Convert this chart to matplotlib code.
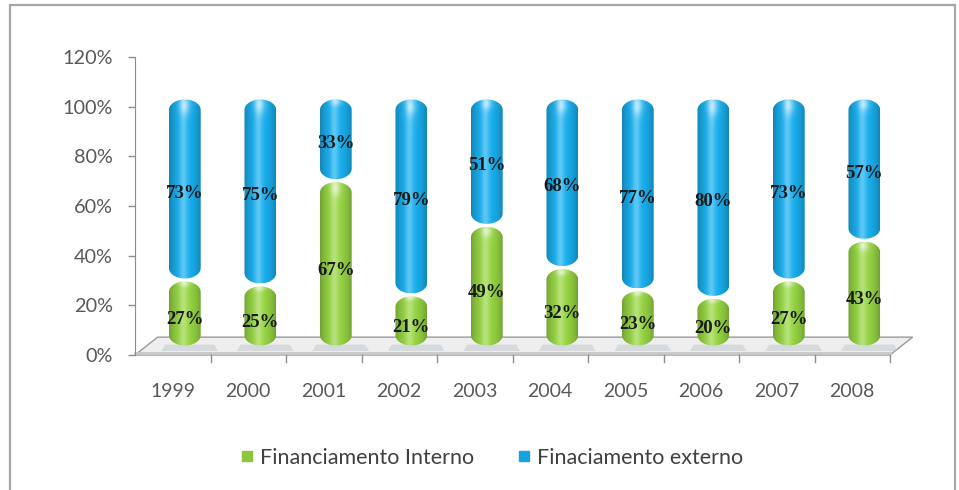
import numpy as np
import matplotlib.pyplot as plt
from matplotlib.path import Path
from matplotlib.patches import PathPatch, Polygon, Rectangle
from matplotlib.lines import Line2D
from matplotlib.colors import to_rgb

years = ["1999", "2000", "2001", "2002", "2003", "2004", "2005", "2006", "2007", "2008"]
interno = [27, 25, 67, 21, 49, 32, 23, 20, 27, 43]
externo = [73, 75, 33, 79, 51, 68, 77, 80, 73, 57]
yticks = [0, 20, 40, 60, 80, 100, 120]

GREEN = "#8CC63E"
BLUE = "#17A3DE"
GRAY_TXT = "#595959"

# pseudo-3D depth of the floor, in data units
DEPTH_X, DEPTH_Y = 0.30, 7.2
BAR_DX, BAR_DY = 0.16, 3.2
HALF_W = 0.21
CAP = 4.2


def capsule_path(xc, y0, y1, hw, cap):
    t = np.linspace(0, np.pi, 30)
    top = np.column_stack([xc + hw * np.cos(t), y1 - cap + cap * np.sin(t)])
    bot = np.column_stack([xc - hw * np.cos(t), y0 + cap - cap * np.sin(t)])
    pts = np.vstack([top, bot, top[:1]])
    codes = [Path.MOVETO] + [Path.LINETO] * (len(pts) - 2) + [Path.CLOSEPOLY]
    return Path(pts, codes)


def shaded_image(color, h=80, w=60):
    base = np.array(to_rgb(color))
    u = np.linspace(-1, 1, w)
    shade = 0.80 + 0.28 * np.cos(u * np.pi / 2) ** 0.7
    spec = 0.30 * np.exp(-((u + 0.1) / 0.25) ** 2)
    img = np.zeros((h, w, 3))
    v = np.linspace(1, 0, h)[:, None]  # 1 = top row
    top_glow = 0.45 * np.exp(-((v - 0.97) / 0.05) ** 2) * np.exp(-(u / 0.35) ** 2)[None, :]
    for k in range(3):
        c = base[k] * shade[None, :]
        c = c + (1 - c) * (spec[None, :] + top_glow)
        img[:, :, k] = c
    return np.clip(img, 0, 1)


def draw_segment(ax, xc, y0, y1, color):
    path = capsule_path(xc, y0, y1, HALF_W, min(CAP, (y1 - y0) / 2))
    patch = PathPatch(path, facecolor="none", edgecolor="none", transform=ax.transData)
    ax.add_patch(patch)
    im = ax.imshow(shaded_image(color), extent=[xc - HALF_W, xc + HALF_W, y0, y1],
                   aspect="auto", interpolation="bilinear", zorder=3)
    im.set_clip_path(patch)


fig = plt.figure(figsize=(9.59, 4.90), dpi=100)
fig.patches.append(Rectangle((10 / 959, -0.02), 945 / 959, (490 - 5) / 490 + 0.02,
                             transform=fig.transFigure, fill=False,
                             edgecolor="#A6A6A6", linewidth=1.6))

ax = fig.add_axes([135 / 959, (490 - 355) / 490, 755 / 959, (355 - 57) / 490])
n = len(years)

# floor slab
floor = Polygon([[-0.5, 0], [n - 0.5, 0], [n - 0.5 + DEPTH_X, DEPTH_Y], [-0.5 + DEPTH_X, DEPTH_Y]],
                closed=True, facecolor="#EEEEEE", edgecolor="#9A9A9A", linewidth=1.0,
                clip_on=False, zorder=1)
ax.add_patch(floor)
ax.plot([-0.5, n - 0.5], [0.9, 0.9], color="#C8C8C8", linewidth=2.0, clip_on=False, zorder=1)
for i in range(n):
    ax.add_patch(Polygon([[i - 0.15, 1.6], [i + 0.6, 1.6], [i + 0.55, 4.2], [i - 0.1, 4.2]],
                         closed=True, facecolor="#BCC2CA", edgecolor="none", alpha=0.45,
                         clip_on=False, zorder=1))

for i in range(n):
    xc = i + BAR_DX
    draw_segment(ax, xc, BAR_DY + 0.6, BAR_DY + interno[i] - 0.6, GREEN)
    draw_segment(ax, xc, BAR_DY + interno[i] + 0.6, BAR_DY + 100 - 0.3, BLUE)
    ax.text(xc, BAR_DY + interno[i] / 2 - 2.5, f"{interno[i]}%", ha="center", va="center",
            fontsize=13.5, fontweight="bold", family="Liberation Serif", color="#1A1A1A", zorder=5)
    ax.text(xc, BAR_DY + interno[i] + externo[i] / 2 - 1.5, f"{externo[i]}%", ha="center",
            va="center", fontsize=13.5, fontweight="bold", family="Liberation Serif",
            color="#1A1A1A", zorder=5)

# category separators below the floor edge
for k in range(1, n + 1):
    ax.plot([k - 0.5, k - 0.5], [0, -2.8], color="#8C8C8C", linewidth=1.0, clip_on=False)

ax.set_xlim(-0.5, n - 0.5)
ax.set_ylim(0, 120)
ax.set_yticks(yticks)
ax.set_yticklabels([f"{v}%" for v in yticks], fontsize=14.3, family="Lato", color=GRAY_TXT)
ax.set_xticks(range(n))
ax.set_xticklabels(years, fontsize=14, family="Lato", color=GRAY_TXT)
ax.tick_params(axis="x", length=0, pad=20)
ax.tick_params(axis="y", length=5, width=1.0, color="#8C8C8C", pad=11)
for s in ["top", "right", "bottom"]:
    ax.spines[s].set_visible(False)
ax.spines["left"].set_color("#8C8C8C")
ax.set_facecolor("none")

handles = [Line2D([], [], linestyle="none", marker="s", markersize=7, color=GREEN),
           Line2D([], [], linestyle="none", marker="s", markersize=7, color=BLUE)]
leg = fig.legend(handles, ["Financiamento Interno", "Finaciamento externo"], ncol=2,
                 loc="center", bbox_to_anchor=(0.513, 1 - 458 / 490), frameon=False,
                 handlelength=0.6, handletextpad=0.3, columnspacing=2.0,
                 prop={"family": "Lato", "size": 15.5})
for t in leg.get_texts():
    t.set_color("#404040")

fig.savefig("out.png", dpi=100)
